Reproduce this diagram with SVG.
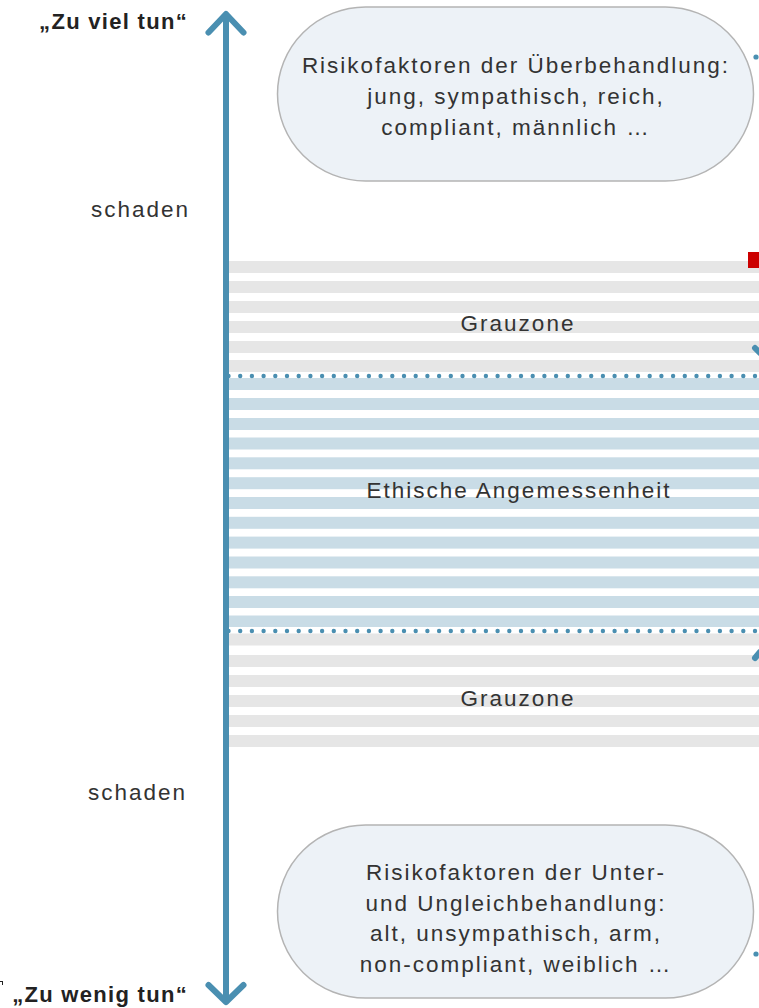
<svg xmlns="http://www.w3.org/2000/svg" width="759" height="1008" viewBox="0 0 759 1008">
<style>
.t{font-family:"Liberation Sans",Arial,sans-serif;fill:#333;font-size:22.5px;letter-spacing:2px}
.b{font-family:"Liberation Sans",Arial,sans-serif;fill:#222;font-size:22px;font-weight:bold;letter-spacing:1.3px}
.bub{fill:#edf2f7;stroke:#b4b4b4;stroke-width:1.5}
.gs{fill:#e6e6e6}
.bs{fill:#c9dce6}
.dots{stroke:#4a8fb1;stroke-width:4.4;stroke-linecap:round;stroke-dasharray:0 11.7;fill:none}
.ax{stroke:#4a8fb1;stroke-width:6;stroke-linecap:round;stroke-linejoin:round;fill:none}
</style>
<rect width="759" height="1008" fill="#fff"/>
<g id="grauzone-oben">
<rect class="gs" x="229" y="261" width="530" height="12"/>
<rect class="gs" x="229" y="281" width="530" height="12"/>
<rect class="gs" x="229" y="301" width="530" height="12"/>
<rect class="gs" x="229" y="321" width="530" height="12"/>
<rect class="gs" x="229" y="341" width="530" height="12"/>
<rect class="gs" x="229" y="360" width="530" height="12"/>
<text class="t" x="518" y="331" text-anchor="middle">Grauzone</text>
</g>
<g id="ethische-angemessenheit">
<rect class="bs" x="229" y="378" width="530" height="12"/>
<rect class="bs" x="229" y="398" width="530" height="12"/>
<rect class="bs" x="229" y="418" width="530" height="12"/>
<rect class="bs" x="229" y="437.5" width="530" height="12"/>
<rect class="bs" x="229" y="457.3" width="530" height="12"/>
<rect class="bs" x="229" y="477.2" width="530" height="12"/>
<rect class="bs" x="229" y="497" width="530" height="12"/>
<rect class="bs" x="229" y="516.8" width="530" height="12"/>
<rect class="bs" x="229" y="536.6" width="530" height="12"/>
<rect class="bs" x="229" y="556.5" width="530" height="12"/>
<rect class="bs" x="229" y="576.3" width="530" height="12"/>
<rect class="bs" x="229" y="596" width="530" height="12"/>
<rect class="bs" x="229" y="615.5" width="530" height="11.5"/>
<text class="t" x="519" y="497.5" text-anchor="middle">Ethische Angemessenheit</text>
</g>
<g id="grauzone-unten">
<rect class="gs" x="229" y="633.5" width="530" height="12"/>
<rect class="gs" x="229" y="655" width="530" height="12"/>
<rect class="gs" x="229" y="675" width="530" height="12"/>
<rect class="gs" x="229" y="695" width="530" height="12"/>
<rect class="gs" x="229" y="715" width="530" height="12"/>
<rect class="gs" x="229" y="735" width="530" height="12"/>
<text class="t" x="518" y="705.5" text-anchor="middle">Grauzone</text>
</g>
<g id="connectors">
<line class="dots" x1="228.5" y1="376" x2="762" y2="376"/>
<line class="dots" x1="228.5" y1="631" x2="762" y2="631"/>
<line class="ax" x1="226" y1="15" x2="226" y2="1001"/>
<polyline class="ax" points="208.5,32.5 226,14 243.5,32.5"/>
<polyline class="ax" points="208.5,985 226,1002 243.5,985"/>
<line class="ax" x1="755" y1="348" x2="760" y2="353" stroke-width="5"/>
<line class="ax" x1="755" y1="658" x2="760" y2="652" stroke-width="5"/>
</g>
<g id="bubble-ueber">
<rect class="bub" x="277.5" y="7" width="476" height="174" rx="88" ry="87"/>
<text class="t" x="516" y="73" text-anchor="middle">Risikofaktoren der Überbehandlung:</text>
<text class="t" x="516" y="104" text-anchor="middle">jung, sympathisch, reich,</text>
<text class="t" x="516" y="135" text-anchor="middle">compliant, männlich …</text>
</g>
<g id="bubble-unter">
<rect class="bub" x="277.5" y="825" width="476" height="173" rx="88" ry="86.5"/>
<text class="t" x="516" y="880" text-anchor="middle">Risikofaktoren der Unter-</text>
<text class="t" x="516" y="910.5" text-anchor="middle">und Ungleichbehandlung:</text>
<text class="t" x="516" y="941" text-anchor="middle">alt, unsympathisch, arm,</text>
<text class="t" x="516" y="971.5" text-anchor="middle">non-compliant, weiblich …</text>
</g>
<g id="label-oben">
<text class="b" x="188" y="29" text-anchor="end">„Zu viel tun“</text>
<text class="t" x="190" y="217" text-anchor="end">schaden</text>
</g>
<g id="label-unten">
<text class="t" x="187" y="800" text-anchor="end">schaden</text>
<text class="b" x="188" y="1002" text-anchor="end">„Zu wenig tun“</text>
</g>
<g id="edge-marks">
<rect x="748" y="252" width="11" height="16" fill="#cc0000"/>
<circle cx="756" cy="57" r="2.6" fill="#4a8fb1"/>
<circle cx="756" cy="954" r="2.6" fill="#4a8fb1"/>
<path d="M0 981.5 H3 M2.5 981.5 V985" stroke="#222" stroke-width="1" fill="none"/>
</g>
</svg>
